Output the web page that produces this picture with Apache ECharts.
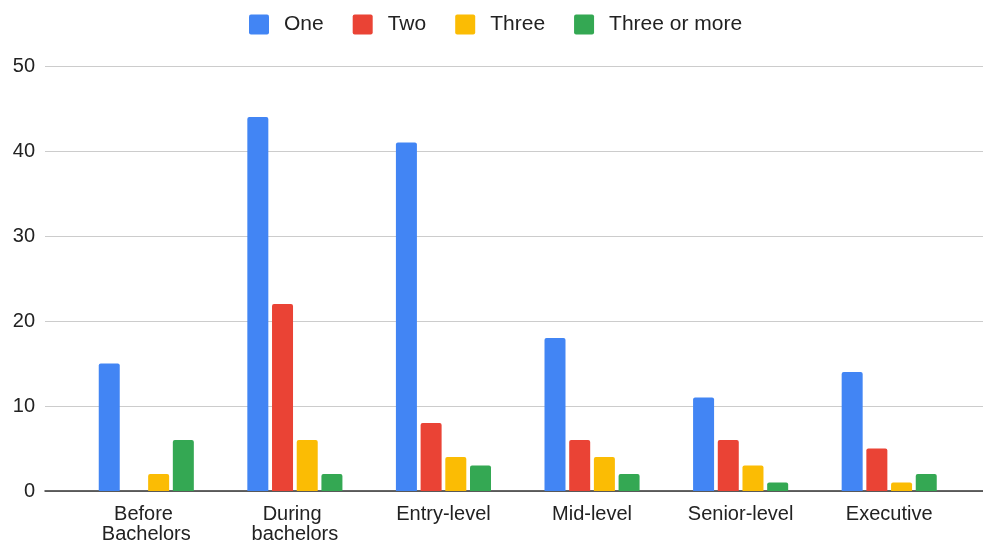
<!DOCTYPE html>
<html>
<head>
<meta charset="utf-8">
<script src="https://cdn.jsdelivr.net/npm/echarts@6/dist/echarts.min.js"></script>
<style>
  html, body { margin: 0; padding: 0; background: #fff; }
  #chart { width: 983px; height: 540px; }
</style>
</head>
<body>
<div id="chart"></div>
<script>
// Career stage categories and counts per series
const categories = ['Before Bachelors', 'During bachelors', 'Entry-level', 'Mid-level', 'Senior-level', 'Executive'];
const seriesNames = ['One', 'Two', 'Three', 'Three or more'];
const oneValues = [15, 44, 41, 18, 11, 14];
const twoValues = [0, 22, 8, 6, 6, 5];
const threeValues = [2, 6, 4, 4, 3, 1];
const threeOrMoreValues = [6, 2, 3, 2, 1, 2];
const yTicks = { min: 0, max: 50, interval: 10 };

const colors = ['#4285F4', '#EA4335', '#FBBC04', '#34A853'];
const fontFamily = '"Liberation Sans", Arial, sans-serif';
const textColor = '#222222';
// square legend swatch with slightly rounded corners
const swatchIcon = 'path://M2,0 H18 A2,2 0 0 1 20,2 V18 A2,2 0 0 1 18,20 H2 A2,2 0 0 1 0,18 V2 A2,2 0 0 1 2,0 Z';

const seriesData = [oneValues, twoValues, threeValues, threeOrMoreValues];

const chart = echarts.init(document.getElementById('chart'), null, { renderer: 'canvas' });

chart.setOption({
  animation: false,
  color: colors,
  textStyle: { fontFamily: fontFamily },
  legend: {
    top: 9,
    left: 244,
    itemWidth: 20,
    itemHeight: 20,
    itemGap: 29,
    icon: swatchIcon,
    textStyle: { fontSize: 21, color: textColor, fontFamily: fontFamily, padding: [0, 0, 0, 10] },
    data: seriesNames
  },
  grid: [
    // full-width grid carrying gridlines, y labels and the baseline
    { left: 45, right: 0, top: 66, bottom: 49, outerBoundsMode: 'none' },
    // inner grid that holds the bar groups
    { left: 72, right: 19.5, top: 66, bottom: 49, outerBoundsMode: 'none' }
  ],
  xAxis: [
    {
      gridIndex: 0,
      type: 'value',
      min: 0,
      max: 1,
      axisLine: { show: true, lineStyle: { color: '#333333', width: 1.5 } },
      axisTick: { show: false },
      axisLabel: { show: false },
      splitLine: { show: false }
    },
    {
      gridIndex: 1,
      type: 'category',
      data: categories,
      axisLine: { show: false },
      axisTick: { show: false },
      axisLabel: {
        margin: 13,
        fontSize: 20,
        color: textColor,
        fontFamily: fontFamily,
        lineHeight: 20,
        width: 125,
        overflow: 'break',
        interval: 0
      },
      splitLine: { show: false }
    }
  ],
  yAxis: [
    {
      gridIndex: 0,
      type: 'value',
      min: yTicks.min,
      max: yTicks.max,
      interval: yTicks.interval,
      axisLine: { show: false },
      axisTick: { show: false },
      axisLabel: { margin: 10, fontSize: 20, color: textColor, fontFamily: fontFamily },
      splitLine: { show: true, lineStyle: { color: '#cccccc', width: 1 } }
    },
    {
      gridIndex: 1,
      type: 'value',
      min: yTicks.min,
      max: yTicks.max,
      interval: yTicks.interval,
      show: false,
      splitLine: { show: false }
    }
  ],
  series: seriesNames.map((name, i) => ({
    name: name,
    type: 'bar',
    xAxisIndex: 1,
    yAxisIndex: 1,
    data: seriesData[i],
    barWidth: 21,
    barGap: '17.6%',
    itemStyle: { color: colors[i], borderRadius: [2, 2, 0, 0] }
  }))
});
</script>
</body>
</html>
